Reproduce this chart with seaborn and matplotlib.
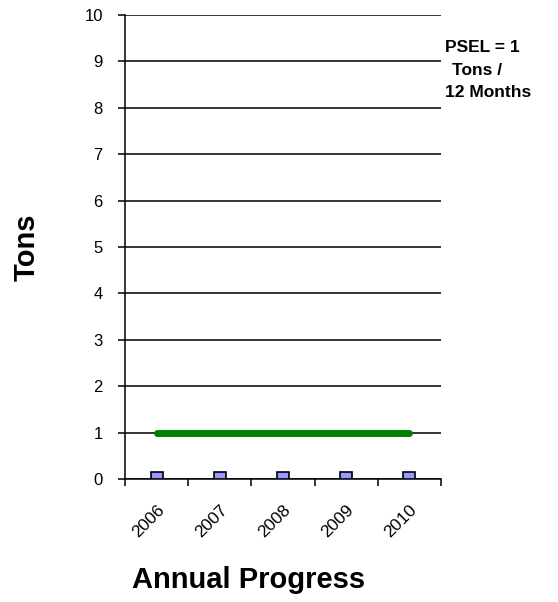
import matplotlib
matplotlib.use("Agg")
import matplotlib.pyplot as plt
import seaborn as sns
import numpy as np

# values
years = ["2006", "2007", "2008", "2009", "2010"]
actual_tons = [0.15, 0.15, 0.15, 0.15, 0.15]
psel_tons = [1, 1, 1, 1, 1]
y_ticks = list(range(0, 11))
psel_note = ["PSEL = 1", "Tons /", "12 Months"]

sns.set_style("white")
plt.rcParams["font.family"] = ["Liberation Sans", "DejaVu Sans"]
plt.rcParams["text.color"] = "black"
plt.rcParams["axes.labelcolor"] = "black"
plt.rcParams["xtick.color"] = "black"
plt.rcParams["ytick.color"] = "black"

W, H = 558, 602
fig = plt.figure(figsize=(W / 100, H / 100), dpi=100)
ax = fig.add_axes([125 / W, 1 - 479 / H, 316 / W, 464 / H])

for v in y_ticks:
    ax.axhline(v, color="black", lw=1.1, zorder=0)

sns.barplot(x=years, y=actual_tons, color="#9999FF", width=0.19,
            edgecolor="black", linewidth=1.2, saturation=1, ax=ax, zorder=3)
sns.pointplot(x=years, y=psel_tons, color="#008000", linewidth=5,
              markersize=0, errorbar=None, ax=ax, zorder=4)
for ln in ax.lines:
    ln.set_solid_capstyle("round")

ax.set_xlim(-0.5, len(years) - 0.5)
ax.set_ylim(0, 10)
ax.set_yticks(y_ticks)
ax.set_xticks(np.arange(len(years)))
ax.set_xticklabels(years, rotation=45, ha="right", rotation_mode="anchor")
ax.set_xticks(np.arange(len(years) + 1) - 0.5, minor=True)
ax.tick_params(axis="x", which="major", length=0, pad=17, labelsize=12.5)
ax.tick_params(axis="x", which="minor", length=5, width=1.1, color="black",
               direction="out", bottom=True)
ax.tick_params(axis="y", length=5, width=1.1, color="black", direction="out",
               left=True, labelsize=12, pad=11)

for side in ["top", "right"]:
    ax.spines[side].set_visible(False)
for side in ["left", "bottom"]:
    ax.spines[side].set_color("black")
    ax.spines[side].set_linewidth(1.1)

ax.set_xlabel("Annual Progress", fontsize=21, fontweight="bold")
ax.xaxis.set_label_coords((249 - 125) / 316, (479 - 566) / 464)
ax.set_ylabel("Tons", fontsize=21, fontweight="bold")
ax.yaxis.set_label_coords((41 - 125) / 316, 0.5)

# note to the right of the plot, one baseline per line
note_x = [445, 452, 445]
note_base = [52.5, 75, 97]
for txt, nx, nb in zip(psel_note, note_x, note_base):
    fig.text(nx / W, 1 - nb / H, txt, fontsize=12.5, fontweight="bold",
             ha="left", va="baseline")

fig.savefig("out.png", dpi=100)
